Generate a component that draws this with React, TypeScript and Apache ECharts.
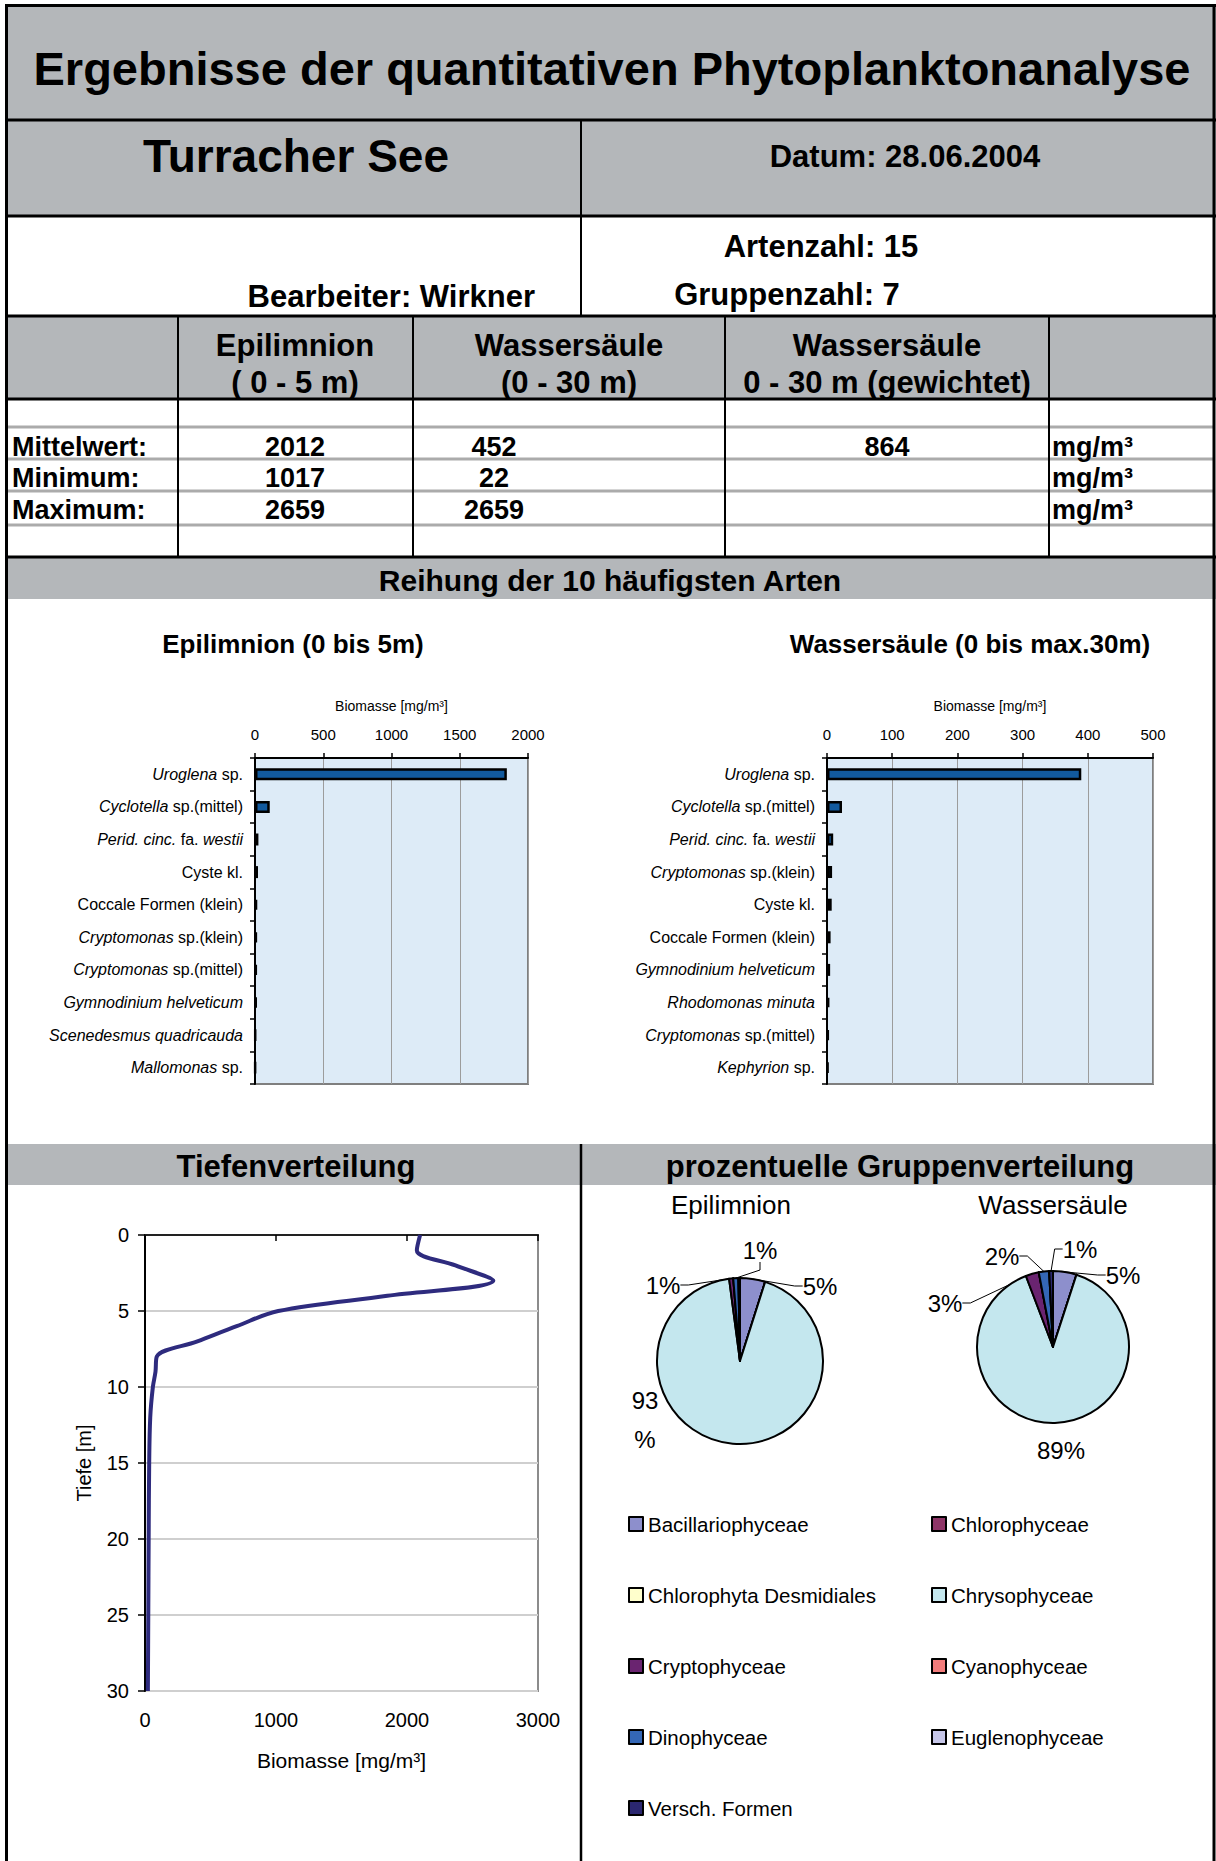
import React, { useEffect, useRef } from 'react';
import * as echarts from 'echarts';

const FONT = '"Liberation Sans", Arial, Helvetica, sans-serif';
const GRAY = '#B4B7BA';

// ---- Data ----
const epiSpecies = [
  '{i|Uroglena} sp.',
  '{i|Cyclotella} sp.(mittel)',
  '{i|Perid. cinc.} fa. {i|westii}',
  'Cyste kl.',
  'Coccale Formen (klein)',
  '{i|Cryptomonas} sp.(klein)',
  '{i|Cryptomonas} sp.(mittel)',
  '{i|Gymnodinium helveticum}',
  '{i|Scenedesmus quadricauda}',
  '{i|Mallomonas} sp.',
];
const epiBiomass = [1845, 108, 25, 22, 15, 13, 12, 11, 3, 2];

const wsSpecies = [
  '{i|Uroglena} sp.',
  '{i|Cyclotella} sp.(mittel)',
  '{i|Perid. cinc.} fa. {i|westii}',
  '{i|Cryptomonas} sp.(klein)',
  'Cyste kl.',
  'Coccale Formen (klein)',
  '{i|Gymnodinium helveticum}',
  '{i|Rhodomonas minuta}',
  '{i|Cryptomonas} sp.(mittel)',
  '{i|Kephyrion} sp.',
];
const wsBiomass = [390, 23, 9.5, 7.8, 7.2, 5.5, 4.8, 3.6, 2.5, 1.8];

const depthM = [0, 1, 2, 3, 4, 5, 6, 7, 8, 9, 10, 12, 15, 20, 25, 30];
const depthBiomass = [2100, 2075, 2370, 2659, 1850, 1017, 700, 400, 90, 80, 60, 40, 32, 28, 25, 22];

const groups = [
  'Bacillariophyceae',
  'Chlorophyceae',
  'Chlorophyta Desmidiales',
  'Chrysophyceae',
  'Cryptophyceae',
  'Cyanophyceae',
  'Dinophyceae',
  'Euglenophyceae',
  'Versch. Formen',
];
const groupColors = ['#8D8FCC', '#8E3567', '#FFFFCC', '#C4E7EE', '#6A2470', '#F27C7C', '#3467B6', '#C6C6E8', '#2B2770'];
const epiShare = [4.9, 0, 0, 93.0, 0.8, 0, 1.0, 0, 0.3];
const wsShare = [5.0, 0, 0, 89.2, 2.8, 0, 2.2, 0, 0.8];

const stats = [
  { label: 'Mittelwert:', epi: '2012', ws: '452', wsw: '864' },
  { label: 'Minimum:', epi: '1017', ws: '22', wsw: '' },
  { label: 'Maximum:', epi: '2659', ws: '2659', wsw: '' },
];

// ---- Layout (positions) ----
const epiLabelPos: Record<string, number[]> = {
  Bacillariophyceae: [820, 1286],
  Chrysophyceae: [645, 1420],
  Cryptophyceae: [663, 1285],
  Dinophyceae: [760, 1250],
};
const wsLabelPos: Record<string, number[]> = {
  Bacillariophyceae: [1123, 1275],
  Chrysophyceae: [1061, 1450],
  Cryptophyceae: [945, 1303],
  Dinophyceae: [1002, 1256],
  'Versch. Formen': [1080, 1249],
};

function txt(text: string, x: number, y: number, size: number, weight = 'bold', align = 'center') {
  return {
    type: 'text',
    x,
    y,
    z: 10,
    style: {
      text,
      fontSize: size,
      fontWeight: weight,
      fontFamily: FONT,
      fill: '#000',
      align,
      verticalAlign: 'middle',
      textAlign: align,
      textVerticalAlign: 'middle',
    },
  };
}
function rect(x: number, y: number, w: number, h: number, fill: string) {
  return { type: 'rect', shape: { x, y, width: w, height: h }, style: { fill }, z: 1 };
}
function line(x1: number, y1: number, x2: number, y2: number, stroke: string, lw: number) {
  return { type: 'line', shape: { x1, y1, x2, y2 }, style: { stroke, lineWidth: lw }, z: 5 };
}
const plain = (v: number) => String(v);

function barXAxis(gridIndex: number, max: number, interval: number) {
  return {
    gridIndex,
    type: 'value',
    position: 'top',
    min: 0,
    max,
    interval,
    name: 'Biomasse [mg/m³]',
    nameLocation: 'middle',
    nameGap: 52,
    nameTextStyle: { fontSize: 14, fontFamily: FONT, color: '#000', verticalAlign: 'middle' },
    axisLine: { show: true, lineStyle: { color: '#000', width: 2 } },
    axisTick: { show: true, length: 5, lineStyle: { color: '#000', width: 1.5 } },
    axisLabel: { fontSize: 15, fontFamily: FONT, color: '#000', margin: 16, formatter: plain },
    splitLine: { show: true, lineStyle: { color: '#9C9C9C', width: 1 } },
  };
}
function barYAxis(gridIndex: number, data: string[]) {
  return {
    gridIndex,
    type: 'category',
    inverse: true,
    data,
    axisLine: { show: true, lineStyle: { color: '#000', width: 2 } },
    axisTick: { show: true, length: 5, lineStyle: { color: '#000', width: 1.5 } },
    axisLabel: {
      fontSize: 16,
      fontFamily: FONT,
      color: '#000',
      margin: 12,
      rich: { i: { fontStyle: 'italic', fontSize: 16, fontFamily: FONT, color: '#000' } },
    },
    splitLine: { show: false },
  };
}
function barSeries(idx: number, data: number[]) {
  return {
    type: 'bar',
    xAxisIndex: idx,
    yAxisIndex: idx,
    data,
    barWidth: 12,
    itemStyle: { color: '#125A9E', borderColor: '#000', borderWidth: 2.5 },
    z: 3,
  };
}
function pieSeries(center: number[], radius: number, shares: number[], pos: Record<string, number[]>, wrapBig: boolean) {
  return {
    type: 'pie',
    center,
    radius,
    startAngle: 90,
    clockwise: true,
    percentPrecision: 0,
    avoidLabelOverlap: false,
    itemStyle: { borderColor: '#000', borderWidth: 2 },
    label: { show: true, position: 'outside', formatter: '{d}%', fontSize: 24, fontFamily: FONT, color: '#000' },
    labelLine: { show: true, length: 8, length2: 8, lineStyle: { color: '#000', width: 1 } },
    labelLayout: (p: any) => {
      const pt = pos[groups[p.dataIndex]];
      if (!pt) return {};
      return { x: pt[0], y: pt[1], align: 'center', verticalAlign: 'middle' };
    },
    data: groups.map((name, i) => {
      const shown = shares[i] >= 0.5;
      const big = shares[i] > 50;
      const item: any = {
        name,
        value: shares[i],
        itemStyle: { color: groupColors[i] },
        label: { show: shown },
        labelLine: { show: shown && !big },
      };
      if (wrapBig && big) {
        item.label = { show: true, width: 30, overflow: 'breakAll', lineHeight: 39, align: 'left' };
      }
      return item;
    }),
  };
}

function buildOption() {
  const graphics: any[] = [];
  // gray bands
  graphics.push(rect(5, 5, 1211, 115, GRAY));
  graphics.push(rect(5, 120, 1211, 96, GRAY));
  graphics.push(rect(5, 316, 1211, 83, GRAY));
  graphics.push(rect(5, 557, 1211, 42, GRAY));
  graphics.push(rect(5, 1144, 1211, 41, GRAY));
  // gray table rules
  [427, 459, 491, 525].forEach((y) => graphics.push(line(5, y, 1215, y, '#ABABAB', 3)));
  // black rules
  graphics.push(line(5, 5.5, 1216, 5.5, '#000', 3));
  [120, 216, 316, 399, 557].forEach((y) => graphics.push(line(5, y, 1216, y, '#000', 3)));
  graphics.push(line(581, 120, 581, 316, '#000', 2));
  graphics.push(line(581, 1144, 581, 1861, '#000', 2.5));
  [178, 413, 725, 1049].forEach((x) => graphics.push(line(x, 316, x, 557, '#000', 2)));
  graphics.push(line(6.5, 4, 6.5, 1861, '#000', 3));
  graphics.push(line(1214, 4, 1214, 1861, '#000', 3));

  // header texts
  graphics.push(txt('Ergebnisse der quantitativen Phytoplanktonanalyse', 612, 68, 47));
  graphics.push(txt('Turracher See', 296, 156, 46));
  graphics.push(txt('Datum: 28.06.2004', 905, 156, 31));
  graphics.push(txt('Artenzahl: 15', 821, 246, 31));
  graphics.push(txt('Gruppenzahl: 7', 787, 294, 31));
  graphics.push(txt('Bearbeiter: Wirkner', 535, 296, 31, 'bold', 'right'));
  graphics.push(txt('Epilimnion', 295, 345, 31));
  graphics.push(txt('( 0 - 5 m)', 295, 382, 31));
  graphics.push(txt('Wassersäule', 569, 345, 31));
  graphics.push(txt('(0 - 30 m)', 569, 382, 31));
  graphics.push(txt('Wassersäule', 887, 345, 31));
  graphics.push(txt('0 - 30 m (gewichtet)', 887, 382, 31));
  const rowY = [447, 478, 510];
  stats.forEach((r, i) => {
    graphics.push(txt(r.label, 12, rowY[i], 27, 'bold', 'left'));
    graphics.push(txt(r.epi, 295, rowY[i], 27));
    graphics.push(txt(r.ws, 494, rowY[i], 27));
    if (r.wsw) graphics.push(txt(r.wsw, 887, rowY[i], 27));
    graphics.push(txt('mg/m³', 1052, rowY[i], 27, 'bold', 'left'));
  });
  graphics.push(txt('Reihung der 10 häufigsten Arten', 610, 580, 30));
  graphics.push(txt('Epilimnion (0 bis 5m)', 293, 644, 26));
  graphics.push(txt('Wassersäule (0 bis max.30m)', 970, 644, 26));
  graphics.push(txt('Tiefenverteilung', 296, 1166, 31));
  graphics.push(txt('prozentuelle Gruppenverteilung', 900, 1166, 31));
  graphics.push(txt('Epilimnion', 731, 1205, 26, 'normal'));
  graphics.push(txt('Wassersäule', 1053, 1205, 26, 'normal'));

  const legends = groups.map((name, i) => {
    const col = i % 2;
    const row = Math.floor(i / 2);
    return {
      data: [name],
      orient: 'vertical',
      left: col ? 931 : 628,
      top: 1524 + row * 71 - 10.5,
      padding: 0,
      itemWidth: 14,
      itemHeight: 14,
      icon: 'rect',
      selectedMode: false,
      itemStyle: { borderColor: '#000', borderWidth: 2 },
      textStyle: { fontSize: 20.5, fontFamily: FONT, color: '#000' },
    };
  });

  return {
    animation: false,
    backgroundColor: '#fff',
    textStyle: { fontFamily: FONT },
    graphic: { elements: graphics },
    legend: legends,
    grid: [
      { left: 255, top: 758, width: 273, height: 326, show: true, backgroundColor: '#DDEBF7', borderColor: '#7F7F7F', borderWidth: 2 },
      { left: 827, top: 758, width: 326, height: 326, show: true, backgroundColor: '#DDEBF7', borderColor: '#7F7F7F', borderWidth: 2 },
      { left: 145, top: 1235, width: 393, height: 456, show: true, backgroundColor: '#fff', borderColor: '#8C8C8C', borderWidth: 2 },
    ],
    xAxis: [
      barXAxis(0, 2000, 500),
      barXAxis(1, 500, 100),
      {
        gridIndex: 2,
        type: 'value',
        position: 'bottom',
        min: 0,
        max: 3000,
        interval: 1000,
        name: 'Biomasse [mg/m³]',
        nameLocation: 'middle',
        nameGap: 69,
        nameTextStyle: { fontSize: 21, fontFamily: FONT, color: '#000', verticalAlign: 'middle' },
        axisLine: { show: true, lineStyle: { color: '#222', width: 2 } },
        axisTick: { show: true, length: 6, lineStyle: { color: '#000', width: 1.5 } },
        axisLabel: { fontSize: 20, fontFamily: FONT, color: '#000', margin: 19, formatter: plain },
        splitLine: { show: false },
      },
    ],
    yAxis: [
      barYAxis(0, epiSpecies),
      barYAxis(1, wsSpecies),
      {
        gridIndex: 2,
        type: 'value',
        inverse: true,
        min: 0,
        max: 30,
        interval: 5,
        name: 'Tiefe [m]',
        nameLocation: 'middle',
        nameGap: 61,
        nameRotate: 90,
        nameTextStyle: { fontSize: 20, fontFamily: FONT, color: '#000', verticalAlign: 'middle' },
        axisLine: { show: true, lineStyle: { color: '#000', width: 2 } },
        axisTick: { show: true, length: 7, lineStyle: { color: '#000', width: 1.5 } },
        axisLabel: { fontSize: 20, fontFamily: FONT, color: '#000', margin: 16, formatter: plain },
        splitLine: { show: true, lineStyle: { color: '#CFCFCF', width: 2 } },
      },
    ],
    series: [
      barSeries(0, epiBiomass),
      barSeries(1, wsBiomass),
      {
        type: 'line',
        xAxisIndex: 2,
        yAxisIndex: 2,
        data: depthBiomass.map((b, i) => [b, depthM[i]]),
        smooth: 0.35,
        symbol: 'none',
        lineStyle: { color: '#2E2B7E', width: 4 },
        z: 4,
      },
      pieSeries([740, 1361], 83, epiShare, epiLabelPos, true),
      pieSeries([1053, 1347], 76, wsShare, wsLabelPos, false),
    ],
  };
}

export default function App() {
  const ref = useRef<HTMLDivElement>(null);
  useEffect(() => {
    document.body.style.margin = '0';
    const chart = echarts.init(ref.current as HTMLDivElement, null, { renderer: 'svg' });
    chart.setOption(buildOption() as any);
    return () => chart.dispose();
  }, []);
  return <div ref={ref} style={{ width: 1216, height: 1861, background: '#fff' }} />;
}
